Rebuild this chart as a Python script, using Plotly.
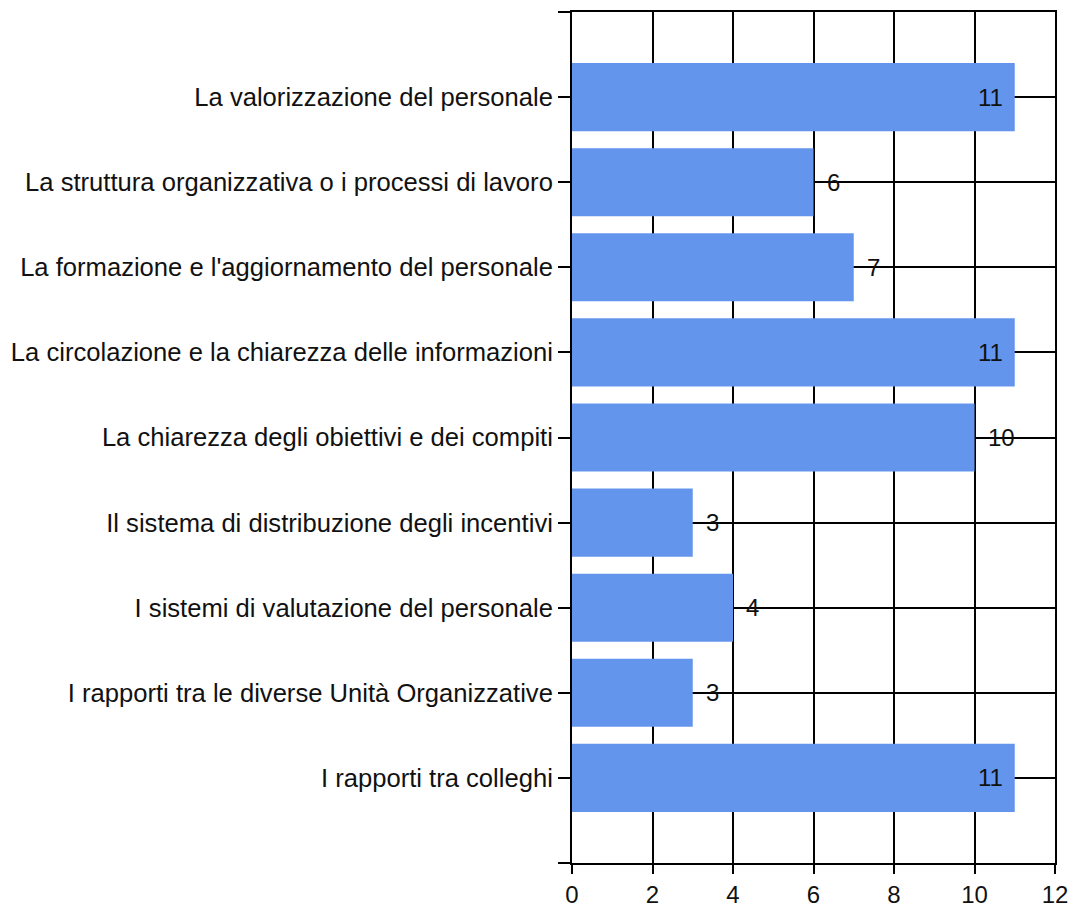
import plotly.graph_objects as go

categories = [
    "La valorizzazione del personale",
    "La struttura organizzativa o i processi di lavoro",
    "La formazione e l'aggiornamento del personale",
    "La circolazione e la chiarezza delle informazioni",
    "La chiarezza degli obiettivi e dei compiti",
    "Il sistema di distribuzione degli incentivi",
    "I sistemi di valutazione del personale",
    "I rapporti tra le diverse Unità Organizzative",
    "I rapporti tra colleghi",
]
values = [11, 6, 7, 11, 10, 3, 4, 3, 11]
x_ticks = [0, 2, 4, 6, 8, 10, 12]

positions = list(range(len(categories)))

fig = go.Figure(
    go.Bar(
        x=values,
        y=positions,
        orientation="h",
        width=0.8,
        marker=dict(color="#6495ED", line=dict(width=0)),
        hoverinfo="x+y",
    )
)

for p, v in zip(positions, values):
    inside = v >= 11
    fig.add_annotation(
        x=v,
        y=p,
        text=str(v),
        showarrow=False,
        xanchor="right" if inside else "left",
        xshift=-10 if inside else 11,
        font=dict(family="Liberation Sans", size=24, color="#111111"),
    )

ytickvals = [-1] + positions + [len(categories)]
yticktext = [""] + categories + [""]

fig.update_layout(
    width=1072,
    height=903,
    margin=dict(l=564, r=25, t=4, b=48, autoexpand=False),
    paper_bgcolor="white",
    plot_bgcolor="white",
    showlegend=False,
    font=dict(family="Liberation Sans", size=25.6, color="#111111"),
    xaxis=dict(
        range=[0, 12],
        tickvals=x_ticks,
        showgrid=True,
        gridcolor="black",
        gridwidth=2,
        zeroline=False,
        ticks="outside",
        ticklen=9,
        tickwidth=2,
        tickcolor="black",
        showline=True,
        mirror=True,
        linecolor="black",
        linewidth=2,
        tickfont=dict(size=24),
        automargin=False,
    ),
    yaxis=dict(
        range=[len(categories), -1],
        tickvals=ytickvals,
        ticktext=yticktext,
        showgrid=True,
        gridcolor="black",
        gridwidth=2,
        zeroline=False,
        ticks="outside",
        ticklen=12,
        tickwidth=2,
        tickcolor="black",
        showline=True,
        mirror=True,
        linecolor="black",
        linewidth=2,
        ticklabelstandoff=0,
        tickfont=dict(size=25.6),
        automargin=False,
    ),
)

fig.write_html("out.html")
